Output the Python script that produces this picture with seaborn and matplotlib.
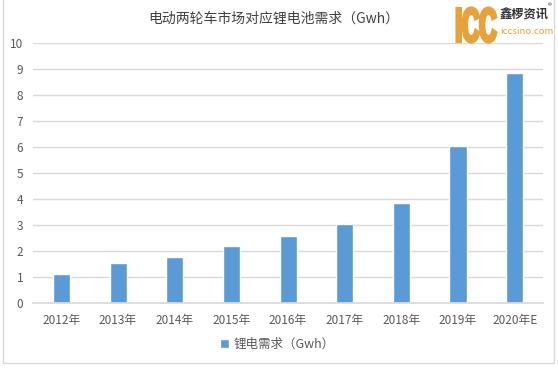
import matplotlib
matplotlib.use("Agg")
import matplotlib.pyplot as plt
import seaborn as sns
import pandas as pd
from matplotlib.patches import Rectangle, PathPatch
from matplotlib.textpath import TextPath
from matplotlib.font_manager import FontProperties
from matplotlib.transforms import Affine2D, IdentityTransform

# 数据
years = ["2012年", "2013年", "2014年", "2015年", "2016年", "2017年", "2018年", "2019年", "2020年E"]
demand = [1.12, 1.55, 1.77, 2.2, 2.56, 3.05, 3.84, 6.03, 8.86]
series_name = "锂电需求（Gwh）"
title = "电动两轮车市场对应锂电池需求（Gwh）"

sns.set_theme(style="white")
plt.rcParams["font.family"] = ["Noto Sans CJK SC", "DejaVu Sans"]

text_color = "#595959"
bar_color = "#5B9BD5"
grid_color = "#D9D9D9"
logo_orange = "#E9A13B"

df = pd.DataFrame({"year": years, "demand": demand})

W, H = 558, 368
fig = plt.figure(figsize=(W / 100, H / 100), dpi=100)
ax = fig.add_axes([33 / W, 1 - 303 / H, 510 / W, 260 / H])

sns.barplot(data=df, x="year", y="demand", color=bar_color, width=0.3,
            saturation=1, label=series_name, ax=ax)

ax.set_ylim(0, 10)
ax.set_yticks(range(0, 11))
ax.set_xlim(-0.5, len(years) - 0.5)
ax.yaxis.grid(True, color=grid_color, linewidth=1)
ax.set_axisbelow(True)
for side in ["top", "right", "left"]:
    ax.spines[side].set_visible(False)
ax.spines["bottom"].set_color(grid_color)
ax.tick_params(axis="both", length=0, labelsize=8.5, colors=text_color)
ax.tick_params(axis="x", pad=8)
ax.tick_params(axis="y", pad=7)
ax.set_xlabel("")
ax.set_ylabel("")
ax.legend().remove()

fig.text(0.49, 1 - 19 / H, title, ha="center", va="center", fontsize=10, color="#404040")

handles, labels = ax.get_legend_handles_labels()
fig.legend(handles, labels, loc="center", bbox_to_anchor=(0.497, 1 - 344 / H),
           frameon=False, fontsize=9, handlelength=0.7, handleheight=0.7,
           handletextpad=0.4, labelcolor=text_color)

# 水印 logo：ICC 压缩到参考图中的方框 (x 455-498, y 6-44)，加描边使字形更粗
icc = TextPath((0, 0), "ICC", size=10, prop=FontProperties(family="Liberation Sans", weight="bold"))
ext = icc.get_extents()
x0, x1, y0, y1 = 457, 496, 8, 42
tr = Affine2D().translate(-ext.x0, -ext.y0).scale((x1 - x0) / ext.width, (y1 - y0) / ext.height)
tr = tr.translate(x0, H - y1)
fig.patches.append(PathPatch(tr.transform_path(icc), transform=IdentityTransform(),
                             facecolor=logo_orange, edgecolor=logo_orange, linewidth=2.2,
                             joinstyle="miter"))
fig.text(500 / W, 1 - 15 / H, "鑫椤资讯", ha="left", va="center", fontsize=8.8,
         fontweight="bold", color="#333333")
fig.text(500 / W, 1 - 31 / H, "iccsino.com", ha="left", va="center", fontsize=6.9,
         color=logo_orange)
fig.text(548 / W, 1 - 6 / H, "®", ha="left", va="center", fontsize=5.5, color="#333333")

# 外框
fig.patches.append(Rectangle((3 / W, 5 / H), 551 / W, 1.0, transform=fig.transFigure,
                             fill=False, edgecolor=grid_color, linewidth=1))

fig.savefig("out.png", dpi=100)
